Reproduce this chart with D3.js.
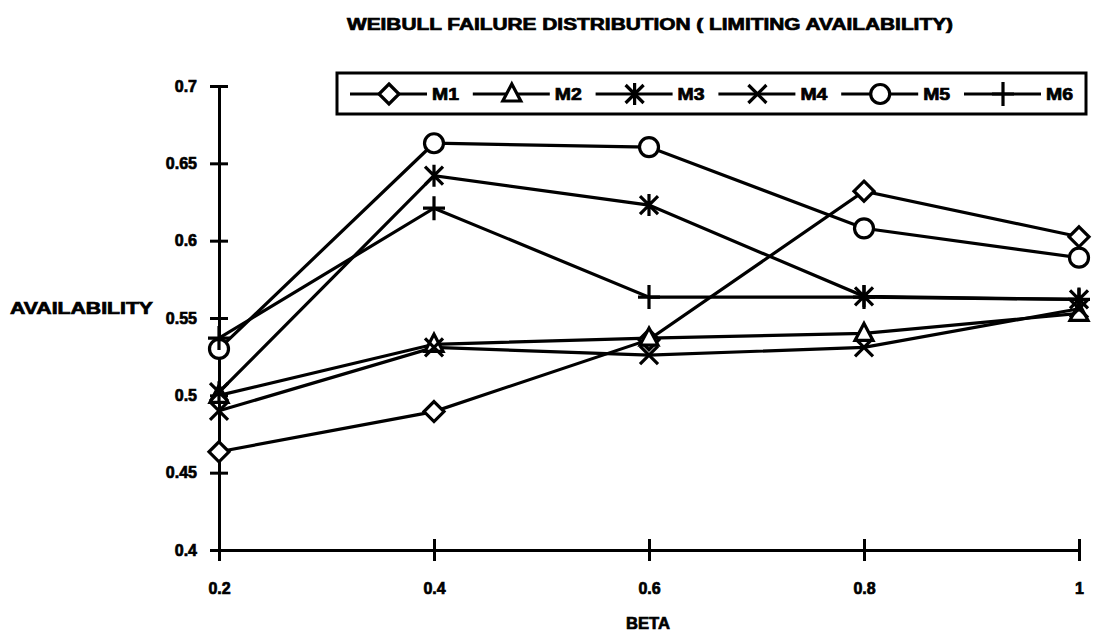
<!DOCTYPE html>
<html><head><meta charset="utf-8">
<script src="https://cdn.jsdelivr.net/npm/d3@7"></script>
<style>body{margin:0;background:#fff}svg{display:block}text{font-family:"Liberation Sans",Arial,sans-serif;font-weight:bold;fill:#000;stroke:#000;stroke-width:0.7px}</style>
</head><body>
<script>
const betas = [0.2, 0.4, 0.6, 0.8, 1.0];
const xTickLabels = ["0.2", "0.4", "0.6", "0.8", "1"];
const yTicks = [0.4, 0.45, 0.5, 0.55, 0.6, 0.65, 0.7];
const yTickLabels = ["0.4", "0.45", "0.5", "0.55", "0.6", "0.65", "0.7"];
const seriesNames = ["M1", "M2", "M3", "M4", "M5", "M6"];
const seriesSymbols = ["diamond", "triangle", "asterisk", "cross", "circle", "plus"];
const M1 = [0.4635, 0.4895, 0.536, 0.632, 0.6025];
const M2 = [0.500, 0.533, 0.537, 0.540, 0.553];
const M3 = [0.502, 0.642, 0.623, 0.564, 0.562];
const M4 = [0.490, 0.531, 0.526, 0.531, 0.556];
const M5 = [0.530, 0.663, 0.6605, 0.608, 0.589];
const M6 = [0.537, 0.621, 0.5635, 0.5635, 0.562];
const seriesValues = [M1, M2, M3, M4, M5, M6];

const W = 1100, H = 637;
const svg = d3.select("body").append("svg").attr("width", W).attr("height", H);
const x = d3.scaleLinear().domain([0.2, 1.0]).range([219, 1079]);
const y = d3.scaleLinear().domain([0.4, 0.7]).range([550, 86]);

function drawSymbol(g, type, cx, cy) {
  const s = g.append("g").attr("transform", `translate(${cx},${cy})`)
    .attr("fill", "#fff").attr("stroke", "#000").attr("stroke-width", 3.2);
  if (type === "diamond") s.append("path").attr("d", "M0,-10L10,0L0,10L-10,0Z");
  else if (type === "triangle") s.append("path").attr("d", "M0,-10L9,7L-9,7Z");
  else if (type === "circle") s.append("circle").attr("r", 9.5);
  else if (type === "cross") s.append("path").attr("d", "M-9,-9L9,9M9,-9L-9,9");
  else if (type === "asterisk") s.append("path").attr("d", "M-9,-9L9,9M9,-9L-9,9M0,-11L0,11");
  else if (type === "plus") s.append("path").attr("d", "M-11,0L11,0M0,-12L0,12");
}

// axes
const yAxis = d3.axisLeft(y).tickValues(yTicks).tickSize(0).tickFormat((d, i) => yTickLabels[i]);
const gy = svg.append("g").attr("transform", "translate(219,0)").call(yAxis);
gy.attr("font-size", null).attr("font-family", null);
gy.select(".domain").attr("stroke", "#000").attr("stroke-width", 3);
gy.selectAll("text").attr("x", -22).attr("font-size", 16).attr("font-family", "Liberation Sans").attr("font-weight", "bold")
  .attr("stroke", "#000").attr("stroke-width", 0.8);
gy.selectAll(".tick").append("line").attr("x1", -9).attr("x2", 9).attr("stroke", "#000").attr("stroke-width", 3);

const xAxis = d3.axisBottom(x).tickValues(betas).tickSize(0).tickFormat((d, i) => xTickLabels[i]);
const gx = svg.append("g").attr("transform", "translate(0,550)").call(xAxis);
gx.attr("font-size", null).attr("font-family", null);
gx.select(".domain").attr("stroke", "#000").attr("stroke-width", 3);
gx.selectAll("text").attr("y", 38).attr("dy", "0.35em").attr("font-size", 16).attr("font-family", "Liberation Sans").attr("font-weight", "bold")
  .attr("stroke", "#000").attr("stroke-width", 0.8);
gx.selectAll(".tick").append("line").attr("y1", -11).attr("y2", 11).attr("stroke", "#000").attr("stroke-width", 3);

// lines
const line = d3.line().x((d, i) => x(betas[i])).y(d => y(d));
seriesValues.forEach((vals) => {
  svg.append("path").datum(vals).attr("d", line).attr("fill", "none")
    .attr("stroke", "#000").attr("stroke-width", 3.2);
});
seriesValues.forEach((vals, k) => {
  vals.forEach((v, i) => drawSymbol(svg, seriesSymbols[k], x(betas[i]), y(v)));
});

// legend
const lg = svg.append("g");
lg.append("rect").attr("x", 337).attr("y", 73).attr("width", 749).attr("height", 41)
  .attr("fill", "#fff").attr("stroke", "#000").attr("stroke-width", 3);
seriesNames.forEach((n, k) => {
  const sx = 350 + k * 122.8;
  lg.append("line").attr("x1", sx).attr("x2", sx + 77).attr("y1", 94).attr("y2", 94)
    .attr("stroke", "#000").attr("stroke-width", 3);
  drawSymbol(lg, seriesSymbols[k], sx + 39, 94);
  lg.append("text").attr("x", sx + 82).attr("y", 100).attr("font-size", 16)
    .attr("textLength", 27).attr("lengthAdjust", "spacingAndGlyphs").text(n);
});

// titles
svg.append("text").attr("x", 650).attr("y", 30).attr("text-anchor", "middle").attr("font-size", 16)
  .attr("textLength", 606).attr("lengthAdjust", "spacingAndGlyphs")
  .text("WEIBULL FAILURE DISTRIBUTION ( LIMITING AVAILABILITY)");
svg.append("text").attr("x", 10).attr("y", 314).attr("font-size", 16)
  .attr("textLength", 143).attr("lengthAdjust", "spacingAndGlyphs").text("AVAILABILITY");
svg.append("text").attr("x", 648).attr("y", 629).attr("text-anchor", "middle").attr("font-size", 17)
  .attr("textLength", 44).attr("lengthAdjust", "spacingAndGlyphs").text("BETA");
</script>
</body></html>
